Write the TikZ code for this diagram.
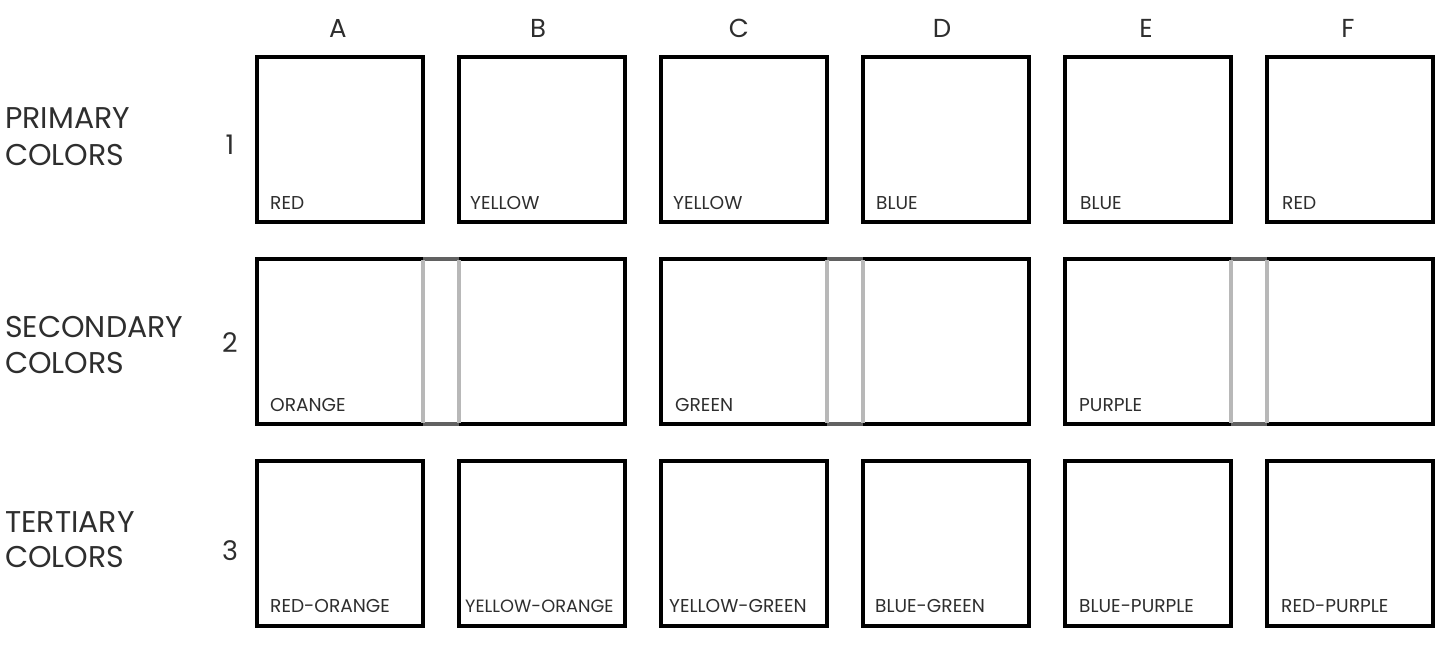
\documentclass[tikz,border=0pt]{standalone}
\usepackage{fontspec}
\setmainfont{Poppins}
\definecolor{txt}{HTML}{2E2E2E}
\begin{document}
\begin{tikzpicture}[x=1pt,y=-1pt,
  box/.style={draw=black, line width=3.6pt, minimum width=166pt, minimum height=165pt, inner sep=0pt, outer sep=0pt, anchor=north west},
  wbox/.style={box, minimum width=368pt},
  seam/.style={draw=black!28, line width=3.6pt},
  seamedge/.style={draw=black!62, line width=3.6pt},
  cname/.style={text=txt, font=\fontsize{18.6}{21}\selectfont, inner sep=0pt, anchor=base west},
  rowlab/.style={text=txt, font=\fontsize{30}{36}\selectfont, inner sep=0pt, anchor=base west},
  num/.style={text=txt, font=\fontsize{27}{30}\selectfont, inner sep=0pt, anchor=base},
  col/.style={text=txt, font=\fontsize{26}{30}\selectfont, inner sep=0pt, anchor=base}]
\useasboundingbox (0,0) rectangle (1439,646);
% column letters
\node[col] (cA) at (338,37) {A};
\node[col] (cB) at (538,37) {B};
\node[col] (cC) at (739,37) {C};
\node[col] (cD) at (942,37) {D};
\node[col] (cE) at (1146,37) {E};
\node[col] (cF) at (1348,37) {F};
% row labels
\node[rowlab] (l1a) at (5,128) {PRIMARY};
\node[rowlab] (l1b) at (5,165) {COLORS};
\node[rowlab] (l2a) at (5,337) {SECONDARY};
\node[rowlab] (l2b) at (5,373) {COLORS};
\node[rowlab] (l3a) at (5,532) {TERTIARY};
\node[rowlab] (l3b) at (5,567) {COLORS};
\node[num] (n1) at (230,154) {1};
\node[num] (n2) at (230,352) {2};
\node[num] (n3) at (230,560) {3};
% row 1
\node[box] (r1a) at (257,57) {};
\node[box] (r1b) at (459,57) {};
\node[box] (r1c) at (661,57) {};
\node[box] (r1d) at (863,57) {};
\node[box] (r1e) at (1065,57) {};
\node[box] (r1f) at (1267,57) {};
\node[cname] (t1a) at (270,209) {RED};
\node[cname] (t1b) at (470,209) {YELLOW};
\node[cname] (t1c) at (673,209) {YELLOW};
\node[cname] (t1d) at (876,209) {BLUE};
\node[cname] (t1e) at (1080,209) {BLUE};
\node[cname] (t1f) at (1282,209) {RED};
% row 2
\node[wbox] (r2a) at (257,259) {};
\node[wbox] (r2c) at (661,259) {};
\node[wbox] (r2e) at (1065,259) {};
\foreach \x in {423,827,1231} {
  \draw[seamedge] (\x,259) -- (\x+36,259);
  \draw[seamedge] (\x,424) -- (\x+36,424);
  \draw[seam] (\x,260) -- (\x,423);
  \draw[seam] (\x+36,260) -- (\x+36,423);
}
\node[cname] (t2a) at (270,411) {ORANGE};
\node[cname] (t2c) at (675,411) {GREEN};
\node[cname] (t2e) at (1079,411) {PURPLE};
% row 3
\node[box] (r3a) at (257,461) {};
\node[box] (r3b) at (459,461) {};
\node[box] (r3c) at (661,461) {};
\node[box] (r3d) at (863,461) {};
\node[box] (r3e) at (1065,461) {};
\node[box] (r3f) at (1267,461) {};
\node[cname] (t3a) at (270,612) {RED-ORANGE};
\node[cname, font=\fontsize{17.8}{21}\selectfont] (t3b) at (465,612) {YELLOW-ORANGE};
\node[cname] (t3c) at (669,612) {YELLOW-GREEN};
\node[cname] (t3d) at (875,612) {BLUE-GREEN};
\node[cname] (t3e) at (1079,612) {BLUE-PURPLE};
\node[cname] (t3f) at (1281,612) {RED-PURPLE};
\end{tikzpicture}
\end{document}
